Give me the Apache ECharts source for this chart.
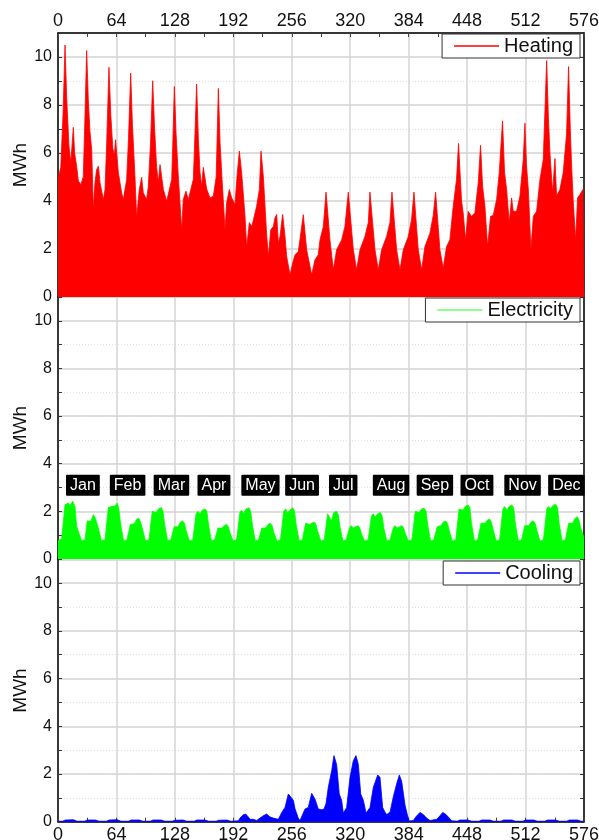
<!DOCTYPE html>
<html>
<head>
<meta charset="utf-8">
<script src="https://cdn.jsdelivr.net/npm/echarts@6/dist/echarts.min.js"></script>
<style>html,body{margin:0;padding:0;background:#fff;}#c{width:599px;height:840px;}</style>
</head>
<body>
<div id="c"></div>
<script>
// ---- data (x = hour index over 24 representative days, y = MWh) ----
const months = ['Jan','Feb','Mar','Apr','May','Jun','Jul','Aug','Sep','Oct','Nov','Dec'];
const xTickValues = [0,64,128,192,256,320,384,448,512,576];
const yTickLabels = [0,2,4,6,8,10];

const heating = [
[0,4.9],[3,5.4],[5.5,7.6],[7.7,10.5],[9.5,8.3],[12,6.3],[14,5.6],[16.8,7.07],[18.2,6.0],[20.4,5.45],[22.3,4.83],[25,4.69],[27.7,5.0],[29.3,7.2],[31.4,10.27],[33.2,8.2],[35,6.9],[36.9,6.15],[38.7,3.64],[40.5,4.77],[42.3,5.3],[44.2,5.45],[46,4.77],[47.8,4.69],[49.6,4.06],[51.5,4.48],[53.3,6.4],[55.8,9.57],[57.8,7.6],[60,6.2],[61.8,5.9],[63,6.55],[64.3,6.57],[66.1,5.18],[69.7,4.34],[71.5,4.06],[73.4,4.13],[75.2,4.9],[77.2,6.6],[79.6,9.33],[81.5,7.2],[84.3,5.0],[86.1,3.3],[89,4.48],[91.6,4.98],[93.4,4.34],[97,4.06],[98.9,4.6],[101.3,6.4],[103.7,9.01],[105.8,7.0],[108,5.4],[109.9,4.77],[111.7,5.52],[113.5,5.52],[115.4,4.48],[119,3.99],[120.9,4.06],[124.5,4.9],[125.8,6.5],[127.4,8.77],[129.3,6.8],[131.5,5.2],[135.4,2.8],[137.2,4.06],[140.1,4.41],[142.7,4.06],[144.5,4.06],[148.2,4.9],[150,6.8],[151.8,8.87],[153.7,6.6],[155.5,5.2],[157.3,4.6],[159.1,5.4],[161,5.4],[162.8,4.5],[166.4,4.13],[170.1,4.2],[173.2,5.0],[174.5,7.0],[175.6,8.69],[177.5,6.4],[179.5,5.0],[182.9,2.8],[184.7,3.92],[187.6,4.48],[190.2,4.13],[192,4.13],[193.8,3.85],[196.4,5.2],[198.6,6.08],[201.1,5.18],[204.8,3.36],[206.6,2.05],[209.5,3.1],[212.1,2.94],[213.9,3.2],[217.5,3.78],[220.5,4.48],[222.3,6.08],[224.9,5.0],[226.7,3.78],[228.6,2.52],[230.4,1.69],[233,2.8],[235.8,2.94],[237.6,3.3],[239.5,3.44],[241.3,2.24],[243.1,2.52],[246,3.44],[248.6,2.52],[250.4,1.69],[254.1,0.92],[257,1.42],[259.6,1.76],[263.2,1.9],[265,1.97],[268.6,3.43],[272.3,1.97],[277.8,0.92],[281.4,1.55],[285,1.76],[286.9,2.38],[290.6,2.94],[293.5,4.37],[297.8,2.38],[301.5,1.13],[305.1,1.97],[310.6,2.38],[314.2,2.94],[317.9,4.37],[323.4,1.97],[327,1.13],[330.7,1.97],[336.1,2.52],[339.8,3.1],[341.6,4.37],[347.1,1.97],[350.7,1.13],[354.4,1.97],[359.8,2.52],[363.5,3.1],[365.7,4.37],[370.8,1.97],[374.5,1.13],[378.1,1.97],[383.6,2.52],[387.2,3.24],[389.8,4.37],[394.5,1.97],[398.2,1.13],[401.8,2.1],[407.3,2.66],[410.9,3.4],[413.5,4.37],[418.2,1.97],[421.8,1.2],[425.5,2.1],[429.1,2.38],[432.8,3.78],[436.4,4.9],[438.6,6.4],[441.9,4.0],[443.7,3.5],[446.3,2.38],[449.2,3.57],[452.8,3.36],[456.5,3.5],[460.2,4.76],[462.7,6.32],[465,4.6],[467.5,3.78],[470.4,2.1],[473.7,3.36],[476.6,3.4],[480.3,4.06],[483.2,5.19],[486.8,7.34],[489,5.2],[491.2,4.5],[494.1,3.1],[496.7,4.13],[498.5,3.57],[502.2,3.57],[505.8,4.2],[509.5,5.73],[511.3,7.24],[513,5.5],[515,4.5],[517.9,1.97],[520.5,3.36],[524.1,3.57],[527.8,4.9],[531.4,5.73],[535.1,9.85],[537,7.5],[538.7,6.0],[541.6,4.34],[544.2,5.77],[546,4.2],[549.6,4.48],[553.3,5.2],[556.9,6.8],[559.1,9.6],[561,7.0],[562.4,5.5],[564.2,4.0],[566.8,2.38],[569,4.13],[571.5,4.27],[575.2,4.5],[576,4.5]
];

const electricity = [
[0,0.76],[4,0.85],[7.7,2.28],[9.5,2.2],[11.3,2.35],[13.1,2.25],[16.1,2.42],[18.6,2.2],[20.4,1.37],[25.8,0.77],
[29.6,0.8],[32,1.6],[34,1.62],[36,1.58],[38.7,1.86],[40.5,1.75],[44.2,1.3],[47.5,0.77],
[51.5,0.8],[55.1,2.16],[56.8,2.1],[58.8,2.2],[62.4,2.23],[65,2.35],[66.6,2.1],[68.5,1.5],[71.8,0.76],
[75.6,0.8],[79.2,1.45],[81,1.5],[83.5,1.48],[86,1.66],[88.2,1.72],[90,1.6],[92.2,1.3],[95.8,0.76],
[99.6,0.8],[103.2,2.0],[105,2.05],[107.5,1.95],[110,2.1],[113.2,2.16],[115,2.0],[116.8,1.45],[120,0.76],
[123.6,0.8],[127.2,1.35],[129,1.4],[131.5,1.35],[134,1.55],[136.4,1.6],[138.5,1.5],[140.3,1.2],[143.8,0.76],
[147.6,0.8],[151.2,1.9],[153,2.0],[155.5,1.9],[158,2.05],[161,2.1],[163,2.0],[164.8,1.45],[168,0.76],
[171.6,0.8],[175.2,1.3],[177,1.35],[179.5,1.3],[182,1.4],[184.5,1.45],[186.5,1.35],[188.4,1.1],[191.8,0.76],
[195.6,0.8],[199.2,1.95],[201,2.05],[203.5,1.9],[206,2.1],[209,2.15],[211,2.0],[212.8,1.45],[216,0.76],
[219.6,0.8],[223.2,1.3],[225,1.32],[227.5,1.3],[230,1.45],[232.5,1.5],[234.5,1.4],[236.4,1.1],[239.8,0.76],
[243.6,0.8],[247.2,2.0],[249,2.1],[251.5,1.95],[254,2.05],[257,2.15],[259,2.0],[260.8,1.45],[264,0.76],
[267.6,0.8],[271.2,1.5],[273,1.55],[275.5,1.45],[278,1.5],[280.5,1.55],[282.5,1.45],[284.4,1.15],[287.8,0.76],
[291.6,0.8],[295.2,1.9],[297,1.95],[299.5,1.6],[302,1.95],[305,2.0],[307,1.85],[308.8,1.35],[312,0.76],
[315.6,0.8],[319.2,1.3],[321,1.4],[323.5,1.3],[326,1.35],[328.5,1.4],[330.5,1.3],[332.4,1.05],[335.8,0.76],
[339.6,0.8],[343.2,1.8],[345,1.9],[347.5,1.75],[350,1.9],[353,1.95],[355,1.8],[356.8,1.3],[360,0.76],
[363.6,0.8],[367.2,1.3],[369,1.4],[371.5,1.3],[374,1.35],[376.5,1.4],[378.5,1.3],[380.4,1.05],[383.8,0.76],
[387.6,0.8],[391.2,2.0],[393,2.05],[395.5,1.95],[398,2.1],[401,2.13],[403,2.0],[404.8,1.45],[408,0.76],
[411.6,0.8],[415.2,1.35],[417,1.4],[419.5,1.4],[422,1.55],[424.5,1.6],[426.5,1.5],[428.4,1.2],[431.8,0.76],
[435.6,0.8],[439.2,2.1],[441,2.15],[443.5,2.05],[446,2.2],[449,2.27],[451,2.15],[452.8,1.5],[456,0.76],
[459.6,0.8],[463.2,1.5],[465,1.55],[467.5,1.5],[470,1.62],[472.5,1.68],[474.5,1.55],[476.4,1.25],[479.8,0.76],
[483.6,0.8],[487.2,2.1],[489,2.2],[491.5,2.05],[494,2.2],[497,2.27],[499,2.15],[500.8,1.5],[504,0.76],
[507.6,0.8],[511.2,1.4],[513,1.45],[515.5,1.4],[518,1.55],[520.5,1.6],[522.5,1.5],[524.4,1.2],[527.8,0.76],
[531.6,0.8],[535.2,2.1],[537,2.2],[539.5,2.1],[542,2.25],[545,2.3],[547,2.15],[548.8,1.5],[552,0.76],
[555.6,0.8],[559.2,1.5],[561,1.55],[563.5,1.5],[566,1.7],[568.5,1.77],[570.5,1.65],[572.4,1.3],[576,0.9]
];

const cooling = [
[0,0.02],[5,0.02],[8,0.07],[17,0.08],[21,0.02],
[29,0.02],[32,0.07],[41,0.07],[45,0.02],
[53,0.02],[56,0.07],[65,0.08],[69,0.02],
[77,0.02],[80,0.07],[89,0.07],[93,0.02],
[101,0.02],[104,0.07],[113,0.07],[117,0.02],
[125,0.02],[128,0.06],[137,0.07],[141,0.02],
[149,0.02],[152,0.07],[161,0.07],[165,0.02],
[173,0.02],[176,0.06],[185,0.07],[189,0.02],
[197.5,0.04],[199.3,0.15],[202.9,0.29],[205.5,0.32],[208.4,0.2],[210.3,0.1],[213.9,0.1],[217.6,0.05],[221.2,0.15],[224.8,0.25],[228.5,0.32],[232.2,0.2],[235.8,0.15],[241.3,0.1],[245,0.39],[248.6,0.6],[252.2,1.16],[254,1.23],[257.7,0.9],[259.5,0.55],[263.1,0.15],[265,0.05],[270.5,0.53],[274.1,0.6],[277.8,1.19],[281.4,0.95],[285,0.53],[288.7,0.5],[291.3,0.53],[293.5,0.76],[296,1.44],[299.7,2.14],[302.2,2.77],[305.1,2.4],[308,1.16],[310.6,0.9],[312.4,0.36],[316.1,0.6],[319.8,1.86],[323.4,2.56],[326.3,2.77],[328.9,2.4],[331.5,1.16],[334.4,0.9],[337.3,0.36],[341.7,0.6],[345.3,1.44],[350.1,1.96],[352.6,1.86],[355.5,0.6],[358.1,0.4],[359.9,0.3],[363.6,0.4],[367.2,1.05],[370.9,1.6],[373.8,1.96],[376.3,1.7],[380,0.7],[382.5,0.3],[384.4,0.03],[389.1,0.05],[392,0.21],[396.4,0.39],[400,0.3],[403.7,0.15],[407.4,0.05],[414.7,0.1],[418.3,0.25],[421.3,0.39],[424.9,0.3],[428.5,0.15],[431.1,0.04],
[437,0.02],[440,0.07],[449,0.07],[453,0.02],
[461,0.02],[464,0.07],[473,0.07],[477,0.02],
[485,0.02],[488,0.07],[497,0.07],[501,0.02],
[509,0.02],[512,0.07],[521,0.07],[525,0.02],
[533,0.02],[536,0.07],[545,0.07],[549,0.02],
[557,0.02],[560,0.07],[569,0.07],[573,0.02],[576,0.02]
];

// ---- chart ----
const FONT = "'Liberation Sans', Arial, sans-serif";
const TXT = '#111';
const GRIDC = '#d4d4d4';
const grids = [
  {left: 58, right: 15, top: 33, height: 264, outerBoundsMode: 'none', containLabel: false},
  {left: 58, right: 15, top: 297, height: 262, outerBoundsMode: 'none', containLabel: false},
  {left: 58, right: 15, top: 559.3, height: 262.4, outerBoundsMode: 'none', containLabel: false}
];
const XMAX = xTickValues[xTickValues.length - 1];
const XINT = xTickValues[1] - xTickValues[0];
const YMAX = 11;

function xAxisFor(g, opts) {
  return Object.assign({
    gridIndex: g, type: 'value', min: 0, max: XMAX, interval: XINT,
    axisLine: {show: false, lineStyle: {color: '#000', width: 1.5}},
    axisTick: {show: true, inside: true, length: 4, lineStyle: {color: '#444'}},
    minorTick: {show: true, splitNumber: 2, length: 4, lineStyle: {color: '#444'}},
    axisLabel: {show: false, fontSize: 18, color: TXT, fontFamily: FONT},
    splitLine: {show: true, lineStyle: {color: GRIDC, width: 1.5}}
  }, opts);
}
const xAxes = [
  xAxisFor(0, {position: 'top', axisLine: {show: true, onZero: false, lineStyle: {color: '#000', width: 1.5}}, axisLabel: {show: true, fontSize: 18, color: TXT, fontFamily: FONT, margin: 3}}),
  xAxisFor(0, {position: 'bottom', splitLine: {show: false}}),
  xAxisFor(1, {position: 'bottom'}),
  xAxisFor(2, {position: 'bottom', axisLine: {show: true, onZero: false, lineStyle: {color: '#000', width: 1.5}}, axisLabel: {show: true, fontSize: 18, color: TXT, fontFamily: FONT, margin: 4}})
];
const yAxes = [];
for (let g = 0; g < 3; g++) {
  yAxes.push({
    gridIndex: g, type: 'value', min: 0, max: YMAX, interval: 1, position: 'left',
    name: 'MWh', nameLocation: 'middle', nameGap: 28, nameMoveOverlap: false,
    nameTextStyle: {fontSize: 19, color: TXT, fontFamily: FONT},
    axisLine: {show: true, onZero: false, lineStyle: {color: '#000', width: 1.5}},
    axisTick: {show: true, inside: true, length: 4, lineStyle: {color: '#333'}},
    axisLabel: {show: true, fontSize: 16, color: TXT, fontFamily: FONT, margin: 6,
      formatter: v => (yTickLabels.indexOf(v) >= 0 ? String(v) : '')},
    splitLine: {show: true, lineStyle: {color: '#dedede', width: 1, type: [1, 2]}}
  });
  yAxes.push({
    gridIndex: g, type: 'value', min: 0, max: YMAX, interval: 2, position: 'left',
    axisLine: {show: false}, axisTick: {show: false}, axisLabel: {show: false},
    splitLine: {show: true, lineStyle: {color: GRIDC, width: 1.5}}
  });
  yAxes.push({
    gridIndex: g, type: 'value', min: 0, max: YMAX, interval: 1, position: 'right',
    axisLine: {show: true, onZero: false, lineStyle: {color: '#000', width: 1.5}},
    axisTick: {show: true, inside: true, length: 4, lineStyle: {color: '#333'}},
    axisLabel: {show: false}, splitLine: {show: false}
  });
}

function legendFor(name, color, right, top) {
  return {
    data: [{name: name, itemStyle: {color: color}}],
    right: right, top: top, orient: 'horizontal',
    icon: 'rect', itemWidth: 45, itemHeight: 1.5,
    selectedMode: false,
    backgroundColor: '#fff', borderColor: '#333', borderWidth: 1, borderRadius: 0,
    padding: [2, 7, 2, 12],
    textStyle: {fontSize: 20, color: TXT, fontFamily: FONT}
  };
}

function areaSeries(name, data, color, xi, yi) {
  return {
    name: name, type: 'line', data: data, xAxisIndex: xi, yAxisIndex: yi,
    symbol: 'none', smooth: false, clip: true,
    lineStyle: {color: color, width: 0.8},
    itemStyle: {color: color},
    areaStyle: {color: color, opacity: 1},
    z: 3
  };
}

const monthMarks = months.map((m, i) => ({name: m, value: [i * 48, 3.1]}));

const option = {
  animation: false,
  backgroundColor: '#fff',
  textStyle: {fontFamily: FONT},
  grid: grids,
  xAxis: xAxes,
  yAxis: yAxes,
  legend: [
    legendFor('Heating', '#ff0000', 19, 34),
    legendFor('Electricity', '#66ff66', 19, 298),
    legendFor('Cooling', '#0000ff', 19, 561)
  ],
  series: [
    areaSeries('Heating', heating, '#ff0000', 0, 0),
    areaSeries('Electricity', electricity, '#00ff00', 2, 3),
    areaSeries('Cooling', cooling, '#0000ff', 3, 6),
    {
      name: 'months', type: 'scatter', xAxisIndex: 2, yAxisIndex: 3,
      data: monthMarks, symbolSize: 0, z: 5, silent: true,
      itemStyle: {opacity: 1},
      label: {show: true, formatter: '{b}', position: 'right', distance: 8,
        color: '#fff', backgroundColor: '#000', fontSize: 16, fontFamily: FONT,
        padding: [3, 4, 2, 4], borderRadius: 1, opacity: 1}
    }
  ]
};
const chart = echarts.init(document.getElementById('c'), null, {renderer: 'canvas'});
chart.setOption(option);
</script>
</body>
</html>
